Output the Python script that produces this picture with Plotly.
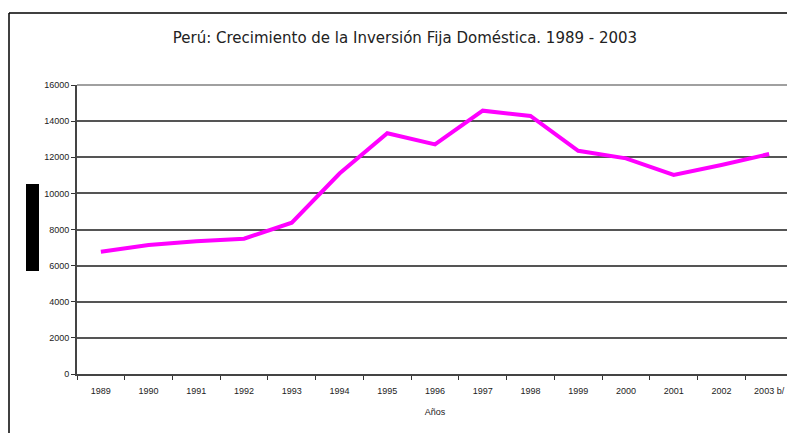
import plotly.graph_objects as go

years = ["1989", "1990", "1991", "1992", "1993", "1994", "1995", "1996",
         "1997", "1998", "1999", "2000", "2001", "2002", "2003 b/"]
inversion = [6770, 7140, 7350, 7490, 8380, 11100, 13330, 12710,
             14580, 14290, 12360, 11940, 11020, 11570, 12180]
y_ticks = [0, 2000, 4000, 6000, 8000, 10000, 12000, 14000, 16000]
y_labels = [str(v) for v in y_ticks]

# page body has an 8px margin; work in page pixel coordinates
OFF = 8
W, H = 795 - OFF, 433 - OFF
PL, PR, PT, PB = 77, 793, 85, 374  # plot area in page pixels
L, R, T, B = PL - OFF, (W + OFF) - PR, PT - OFF, (H + OFF) - PB
pw, ph = PR - PL, PB - PT

def px(x):
    return (x - PL) / pw

def py(y):
    return (PB - y) / ph

fig = go.Figure()
fig.add_trace(go.Scatter(x=years, y=inversion, mode="lines",
                         line=dict(color="#FF00FF", width=4),
                         showlegend=False, hoverinfo="x+y"))

shapes = [
    # outer frame
    dict(type="line", xref="paper", yref="paper", x0=px(9), x1=px(800), y0=py(13), y1=py(13),
         line=dict(color="black", width=1.5)),
    dict(type="line", xref="paper", yref="paper", x0=px(9), x1=px(9), y0=py(13), y1=py(440),
         line=dict(color="black", width=1.5)),
    # plot area border top/right
    dict(type="line", xref="paper", yref="paper", x0=0, x1=1, y0=1, y1=1,
         line=dict(color="#808080", width=1.5)),
    dict(type="line", xref="paper", yref="paper", x0=1, x1=1, y0=0, y1=1,
         line=dict(color="#808080", width=1.5)),
    # black box (redacted axis title)
    dict(type="rect", xref="paper", yref="paper", x0=px(26), x1=px(39), y0=py(271), y1=py(184),
         fillcolor="black", line=dict(width=0)),
]

fig.update_layout(
    width=W, height=H,
    margin=dict(l=L, r=R, t=T, b=B),
    paper_bgcolor="white", plot_bgcolor="white",
    title=dict(text="Perú: Crecimiento de la Inversión Fija Doméstica. 1989 - 2003",
               x=(405 - OFF) / W, xanchor="center", y=1 - (38 - OFF) / H, yanchor="middle",
               font=dict(family="DejaVu Sans", size=15, color="#222")),
    shapes=shapes,
    xaxis=dict(type="category", tickson="boundaries", ticks="outside", ticklen=4,
               tickcolor="#333", showline=True, linecolor="#444", linewidth=2,
               showgrid=False, tickfont=dict(family="Liberation Sans", size=9, color="#222"),
               ticklabelstandoff=7,
               title=dict(text="Años", font=dict(family="Liberation Sans", size=9, color="#222"),
                          standoff=14),
               range=[-0.5, 14.5], fixedrange=True),
    yaxis=dict(range=[0, 16000], tickvals=y_ticks, ticktext=y_labels, ticks="outside", ticklen=4,
               tickcolor="#333", showline=True, linecolor="#444", linewidth=2,
               showgrid=True, gridcolor="#555", gridwidth=1.5, zeroline=False,
               tickfont=dict(family="Liberation Sans", size=9, color="#222"),
               fixedrange=True),
)

fig.write_html("out.html")
